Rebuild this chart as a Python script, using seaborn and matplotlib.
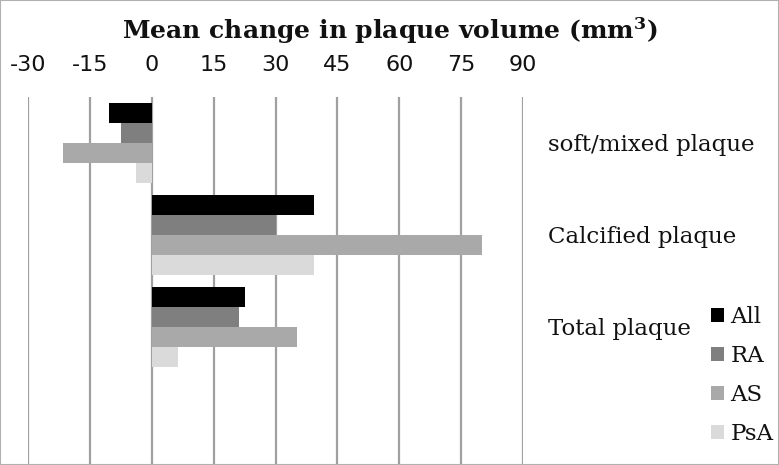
import matplotlib
matplotlib.use("Agg")
import matplotlib.pyplot as plt
import seaborn as sns
import pandas as pd

categories = ["soft/mixed plaque", "Calcified plaque", "Total plaque"]
groups = ["All", "RA", "AS", "PsA"]
all_vals = [-10.4, 39.3, 22.6]
ra_vals = [-7.5, 30.0, 21.2]
as_vals = [-21.5, 80.0, 35.3]
psa_vals = [-3.9, 39.3, 6.3]
xticks = [-30, -15, 0, 15, 30, 45, 60, 75, 90]
colors = ["#000000", "#7f7f7f", "#a9a9a9", "#dadada"]

rows = []
for g, vals in zip(groups, [all_vals, ra_vals, as_vals, psa_vals]):
    for c, v in zip(categories, vals):
        rows.append({"category": c, "group": g, "value": v})
df = pd.DataFrame(rows)

sns.set_style("white")
plt.rcParams["font.family"] = ["DejaVu Serif"]
plt.rcParams["mathtext.fontset"] = "dejavuserif"
plt.rcParams["text.color"] = "#111111"
plt.rcParams["xtick.color"] = "#111111"
plt.rcParams["ytick.color"] = "#111111"

fig = plt.figure(figsize=(7.79, 4.65), dpi=100)
ax = fig.add_axes([28 / 779, 0.0, (523 - 28) / 779, 1 - 97 / 465])

sns.barplot(data=df, y="category", x="value", hue="group", hue_order=groups,
            order=categories, palette=colors, orient="h", width=0.87,
            errorbar=None, ax=ax, saturation=1, linewidth=0)

ax.set_ylim(3.5, -0.5)
ax.set_xlim(-30, 90)
ax.set_xticks(xticks)
ax.set_xticklabels([str(t) for t in xticks], fontsize=16, family="DejaVu Sans")
ax.xaxis.tick_top()
ax.tick_params(axis="x", length=0, pad=16, labelcolor="#111111")
ax.grid(axis="x", color="#a0a0a0", linewidth=1.6)
ax.set_axisbelow(True)
for s in ax.spines.values():
    s.set_visible(False)

ax.yaxis.tick_right()
ax.tick_params(axis="y", length=0, pad=18, labelsize=16.5, labelcolor="#111111")
ax.set_yticks(range(len(categories)))
ax.set_yticklabels(categories)
ax.set_ylabel("")
ax.set_xlabel("")

handles, labels = ax.get_legend_handles_labels()
ax.legend(handles, labels, loc="upper left", bbox_to_anchor=(711 / 779, 1 - 306 / 465),
          bbox_transform=fig.transFigure, frameon=False, fontsize=16.5,
          handlelength=0.55, handleheight=0.55, handletextpad=0.3, labelspacing=0.74,
          borderaxespad=0, borderpad=0)

fig.text(390 / 779, 1 - 39 / 465, r"Mean change in plaque volume (mm$^{\mathbf{3}}$)",
         ha="center", va="baseline", fontsize=18, fontweight="bold")

fig.patches.append(plt.Rectangle((0, 0), 1, 1, transform=fig.transFigure,
                                 fill=False, edgecolor="#b0b0b0", linewidth=1.5))

fig.savefig("out.png", dpi=100)
